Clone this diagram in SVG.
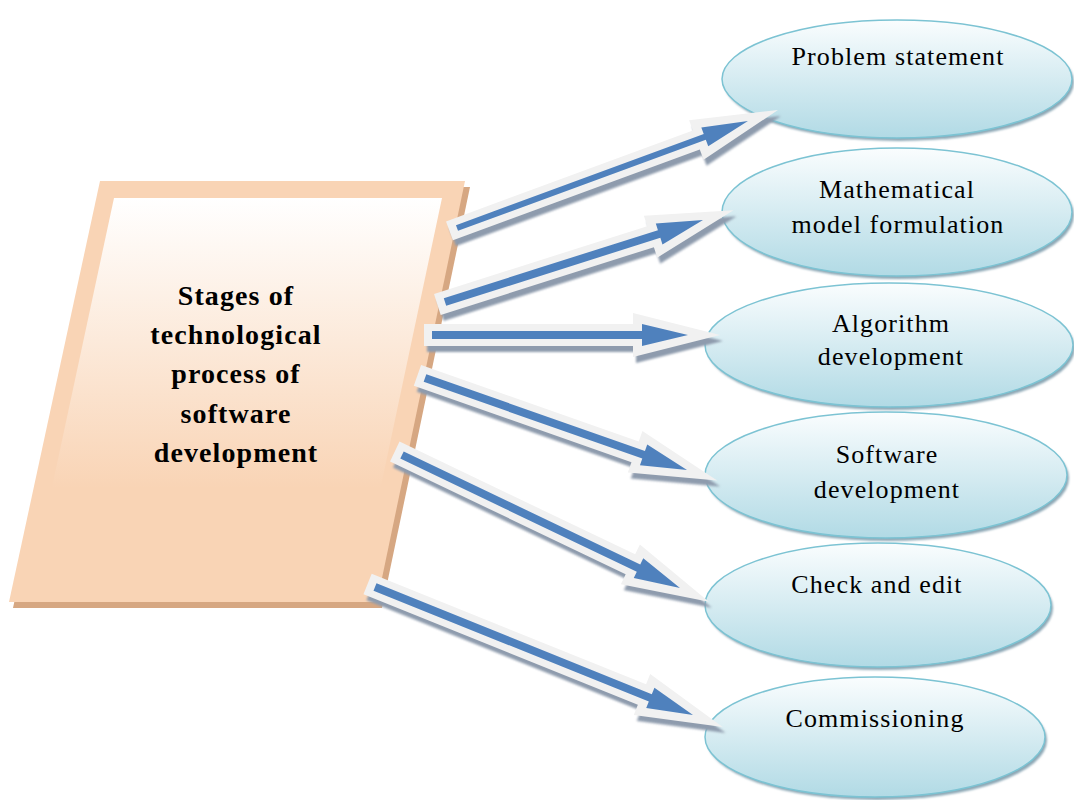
<svg xmlns="http://www.w3.org/2000/svg" width="1074" height="800" viewBox="0 0 1074 800">
<defs>
<linearGradient id="inner" x1="0" y1="0" x2="0" y2="1">
<stop offset="0" stop-color="#FFFFFF"/>
<stop offset="0.75" stop-color="#F9D4B5"/>
<stop offset="1" stop-color="#F9D4B5"/>
</linearGradient>
<linearGradient id="ell" x1="0" y1="0" x2="0" y2="1">
<stop offset="0" stop-color="#FAFDFE"/>
<stop offset="1" stop-color="#B1DAE5"/>
</linearGradient>
<filter id="blur1" x="-10%" y="-10%" width="120%" height="120%"><feGaussianBlur stdDeviation="1.2"/></filter>
</defs>
<style>
.para-shadow{fill:#D6A782}
.para{fill:#F9D4B5}
.para-inner{fill:url(#inner)}
.title{font-family:"Liberation Serif","Times New Roman",serif;font-weight:bold;font-size:28px;letter-spacing:1.1px;fill:#000;text-anchor:middle}
.eshadow{fill:#8DA8B6;filter:url(#blur1)}
.ellipse{fill:url(#ell);stroke:#7CC3D3;stroke-width:1.5}
.label{font-family:"Liberation Serif","Times New Roman",serif;font-size:26px;letter-spacing:1.1px;fill:#000;text-anchor:middle}
.ashadow{fill:#8E9BAD;filter:url(#blur1)}
.aouter{fill:#F1F1F1}
.ablue{fill:#4F81BD}
</style>

<g id="main-stage">
<polygon class="para-shadow" points="105,187 470,187 382,608 13,608"/>
<polygon class="para" points="100,181 465,181 377,602 9,602"/>
<polygon class="para-inner" points="114,198 442,198 360,585 31,585"/>
<text class="title" x="236" y="305">Stages of</text>
<text class="title" x="236" y="344">technological</text>
<text class="title" x="236" y="383">process of</text>
<text class="title" x="236" y="423">software</text>
<text class="title" x="236" y="462">development</text>
</g>

<g id="problem-statement">
<ellipse class="eshadow" cx="899" cy="82" rx="175" ry="59"/>
<ellipse class="ellipse" cx="897" cy="79" rx="175" ry="59"/>
<text class="label" x="898" y="65">Problem statement</text>
</g>

<g id="math-model">
<ellipse class="eshadow" cx="899" cy="215" rx="175" ry="64"/>
<ellipse class="ellipse" cx="897" cy="212" rx="175" ry="64"/>
<text class="label" x="897" y="198">Mathematical</text>
<text class="label" x="898" y="233">model formulation</text>
</g>

<g id="algorithm">
<ellipse class="eshadow" cx="891" cy="348" rx="184" ry="62"/>
<ellipse class="ellipse" cx="889" cy="345" rx="184" ry="62"/>
<text class="label" x="891" y="332">Algorithm</text>
<text class="label" x="891" y="365">development</text>
</g>

<g id="software">
<ellipse class="eshadow" cx="888" cy="478" rx="181" ry="63"/>
<ellipse class="ellipse" cx="886" cy="475" rx="181" ry="63"/>
<text class="label" x="887" y="463">Software</text>
<text class="label" x="887" y="498">development</text>
</g>

<g id="check-edit">
<ellipse class="eshadow" cx="880" cy="608" rx="173" ry="62"/>
<ellipse class="ellipse" cx="878" cy="605" rx="173" ry="62"/>
<text class="label" x="877" y="593">Check and edit</text>
</g>

<g id="commissioning">
<ellipse class="eshadow" cx="877" cy="740" rx="170" ry="60"/>
<ellipse class="ellipse" cx="875" cy="737" rx="170" ry="60"/>
<text class="label" x="875" y="727">Commissioning</text>
</g>

<g id="connectors">
<g id="arrow1">
<path class="ashadow" transform="translate(460,234) rotate(-20.19)" d="M-8,-10 L255,-10 L255,-21 L342,0 L255,21 L255,10 L-8,10 Z"/>
<path class="aouter" transform="translate(457,228) rotate(-20.19)" d="M-8,-10 L255,-10 L255,-21 L342,0 L255,21 L255,10 L-8,10 Z"/>
<path class="ablue" transform="translate(457,228) rotate(-20.19)" d="M0,-3 L264,-3 L264,-10 L310,0 L264,10 L264,3 L0,3 Z"/>
</g>
<g id="arrow2">
<path class="ashadow" transform="translate(448,308) rotate(-17.63)" d="M-8,-11 L215.7,-11 L215.7,-22 L302.7,0 L215.7,22 L215.7,11 L-8,11 Z"/>
<path class="aouter" transform="translate(445,302) rotate(-17.63)" d="M-8,-11 L215.7,-11 L215.7,-22 L302.7,0 L215.7,22 L215.7,11 L-8,11 Z"/>
<path class="ablue" transform="translate(445,302) rotate(-17.63)" d="M0,-4 L224.7,-4 L224.7,-11 L270.7,0 L224.7,11 L224.7,4 L0,4 Z"/>
</g>
<g id="arrow3">
<path class="ashadow" transform="translate(435,341) rotate(0)" d="M-8,-11 L201,-11 L201,-22 L288,0 L201,22 L201,11 L-8,11 Z"/>
<path class="aouter" transform="translate(432,335) rotate(0)" d="M-8,-11 L201,-11 L201,-22 L288,0 L201,22 L201,11 L-8,11 Z"/>
<path class="ablue" transform="translate(432,335) rotate(0)" d="M0,-4 L210,-4 L210,-11 L256,0 L210,11 L210,4 L0,4 Z"/>
</g>
<g id="arrow4">
<path class="ashadow" transform="translate(428,384) rotate(19.35)" d="M-8,-11 L222.7,-11 L222.7,-22 L309.7,0 L222.7,22 L222.7,11 L-8,11 Z"/>
<path class="aouter" transform="translate(425,378) rotate(19.35)" d="M-8,-11 L222.7,-11 L222.7,-22 L309.7,0 L222.7,22 L222.7,11 L-8,11 Z"/>
<path class="ablue" transform="translate(425,378) rotate(19.35)" d="M0,-4 L231.7,-4 L231.7,-11 L277.7,0 L231.7,11 L231.7,4 L0,4 Z"/>
</g>
<g id="arrow5">
<path class="ashadow" transform="translate(405,461) rotate(25.57)" d="M-8,-11 L253.2,-11 L253.2,-22 L340.2,0 L253.2,22 L253.2,11 L-8,11 Z"/>
<path class="aouter" transform="translate(402,455) rotate(25.57)" d="M-8,-11 L253.2,-11 L253.2,-22 L340.2,0 L253.2,22 L253.2,11 L-8,11 Z"/>
<path class="ablue" transform="translate(402,455) rotate(25.57)" d="M0,-4 L262.2,-4 L262.2,-11 L308.2,0 L262.2,11 L262.2,4 L0,4 Z"/>
</g>
<g id="arrow6">
<path class="ashadow" transform="translate(378,593) rotate(21.93)" d="M-8,-11 L287.8,-11 L287.8,-22 L374.8,0 L287.8,22 L287.8,11 L-8,11 Z"/>
<path class="aouter" transform="translate(375,587) rotate(21.93)" d="M-8,-11 L287.8,-11 L287.8,-22 L374.8,0 L287.8,22 L287.8,11 L-8,11 Z"/>
<path class="ablue" transform="translate(375,587) rotate(21.93)" d="M0,-4 L296.8,-4 L296.8,-11 L342.8,0 L296.8,11 L296.8,4 L0,4 Z"/>
</g>
</g>
</svg>
